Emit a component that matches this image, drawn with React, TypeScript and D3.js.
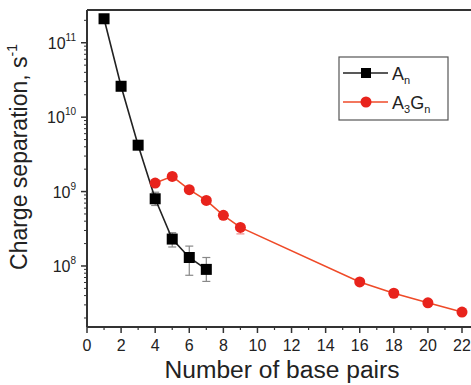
import React from "react";
import * as d3 from "d3";

const anX = [1, 2, 3, 4, 5, 6, 7];
const anY = [2.1e11, 2.6e10, 4.2e9, 8.0e8, 2.3e8, 1.3e8, 9.0e7];
const anErrLo = [0, 0, 0, 6.5e8, 1.8e8, 7.5e7, 6.2e7];
const anErrHi = [0, 0, 0, 9.8e8, 2.8e8, 1.85e8, 1.3e8];

const agX = [4, 5, 6, 7, 8, 9, 16, 18, 20, 22];
const agY = [1.3e9, 1.6e9, 1.06e9, 7.6e8, 4.8e8, 3.3e8, 6.1e7, 4.3e7, 3.2e7, 2.4e7];
const agErrLo = [0, 0, 0, 0, 0, 2.7e8, 0, 0, 0, 0];
const agErrHi = [0, 0, 0, 0, 0, 3.9e8, 0, 0, 0, 0];

const xTicks = [0, 2, 4, 6, 8, 10, 12, 14, 16, 18, 20, 22];
const yDecades = [8, 9, 10, 11];

const W = 471, H = 385;
const L = 87, T = 10, B = 327;
const xMax = 23.5;

export default function App() {
  const x = d3.scaleLinear().domain([0, 22]).range([L, 462]);
  const y = d3.scaleLog().domain([Math.pow(10, 7.18), Math.pow(10, 11.44)]).range([B, T]);
  const R = x(xMax);
  const line = d3.line<[number, number]>().x(d => x(d[0])).y(d => y(d[1]));
  const anPts = anX.map((v, i) => [v, anY[i]] as [number, number]);
  const agPts = agX.map((v, i) => [v, agY[i]] as [number, number]);

  const minorY: number[] = [];
  for (let e = 7; e <= 11; e++) {
    for (let m = 2; m <= 9; m++) {
      const v = m * Math.pow(10, e);
      if (v >= y.domain()[0] && v <= y.domain()[1]) minorY.push(v);
    }
  }
  const minorX = d3.range(1, 23, 2);
  const red = "#e8231c";
  const redLine = "#ef4a28";

  return (
    <svg width={W} height={H} style={{ position: "absolute", left: 0, top: 0, background: "#fff" }}
      fontFamily="Liberation Sans, Arial, sans-serif">
      {/* frame */}
      <line x1={L} x2={R} y1={T} y2={T} stroke="#333" strokeWidth={2} />
      <line x1={L} x2={L} y1={T} y2={B} stroke="#333" strokeWidth={2} />
      <line x1={L} x2={R} y1={B} y2={B} stroke="#333" strokeWidth={2} />
      {/* x ticks */}
      {xTicks.map(t => (
        <g key={"xt" + t}>
          <line x1={x(t)} x2={x(t)} y1={B} y2={B + 6} stroke="#333" strokeWidth={1.5} />
          <text x={x(t)} y={351} textAnchor="middle" fontSize={16} fill="#222">{t}</text>
        </g>
      ))}
      {minorX.map(t => (
        <line key={"xm" + t} x1={x(t)} x2={x(t)} y1={B} y2={B + 3} stroke="#333" strokeWidth={1.2} />
      ))}
      {/* y ticks */}
      {yDecades.map(e => (
        <g key={"yd" + e}>
          <line x1={L - 6} x2={L} y1={y(Math.pow(10, e))} y2={y(Math.pow(10, e))} stroke="#333" strokeWidth={1.5} />
          <text x={L - 11} y={y(Math.pow(10, e)) + 6} textAnchor="end" fontSize={16} fill="#222">
            10<tspan fontSize={10} dy={-8}>{e}</tspan>
          </text>
        </g>
      ))}
      {minorY.map((v, i) => (
        <line key={"ym" + i} x1={L - 3} x2={L} y1={y(v)} y2={y(v)} stroke="#333" strokeWidth={1} />
      ))}
      {/* error bars */}
      {anX.map((v, i) => anErrLo[i] > 0 ? (
        <g key={"ae" + i} stroke="#888" strokeWidth={1.2}>
          <line x1={x(v)} x2={x(v)} y1={y(anErrLo[i])} y2={y(anErrHi[i])} />
          <line x1={x(v) - 4} x2={x(v) + 4} y1={y(anErrLo[i])} y2={y(anErrLo[i])} />
          <line x1={x(v) - 4} x2={x(v) + 4} y1={y(anErrHi[i])} y2={y(anErrHi[i])} />
        </g>
      ) : null)}
      {agX.map((v, i) => agErrLo[i] > 0 ? (
        <g key={"ge" + i} stroke="#e88" strokeWidth={1.2}>
          <line x1={x(v)} x2={x(v)} y1={y(agErrLo[i])} y2={y(agErrHi[i])} />
          <line x1={x(v) - 4} x2={x(v) + 4} y1={y(agErrLo[i])} y2={y(agErrLo[i])} />
        </g>
      ) : null)}
      {/* lines */}
      <path d={line(agPts) || ""} fill="none" stroke={redLine} strokeWidth={1.6} />
      <path d={line(anPts) || ""} fill="none" stroke="#222" strokeWidth={1.6} />
      {agPts.map((p, i) => (
        <circle key={"gc" + i} cx={x(p[0])} cy={y(p[1])} r={5.5} fill={red} />
      ))}
      {anPts.map((p, i) => (
        <rect key={"ar" + i} x={x(p[0]) - 5.5} y={y(p[1]) - 5.5} width={11} height={11} fill="#000" />
      ))}
      {/* legend */}
      <rect x={339} y={57} width={109} height={63} fill="#fff" stroke="#555" strokeWidth={1.2} />
      <line x1={343} x2={388} y1={73} y2={73} stroke="#222" strokeWidth={1.6} />
      <rect x={361} y={68} width={10} height={10} fill="#000" />
      <text x={392} y={80} fontSize={18} fill="#222">A<tspan fontSize={11} dy={4}>n</tspan></text>
      <line x1={343} x2={388} y1={102} y2={102} stroke={redLine} strokeWidth={1.6} />
      <circle cx={366} cy={102} r={5.5} fill={red} />
      <text x={392} y={109} fontSize={18} fill="#222">A<tspan fontSize={11} dy={4}>3</tspan><tspan dy={-4}>G</tspan><tspan fontSize={11} dy={4}>n</tspan></text>
      {/* axis titles */}
      <text x={282} y={378} textAnchor="middle" fontSize={23} fill="#222" textLength={235} lengthAdjust="spacingAndGlyphs">Number of base pairs</text>
      <text transform="translate(27,157) rotate(-90)" textAnchor="middle" fontSize={23} fill="#222">
        Charge separation, s<tspan fontSize={14} dy={-10}>-1</tspan>
      </text>
    </svg>
  );
}
